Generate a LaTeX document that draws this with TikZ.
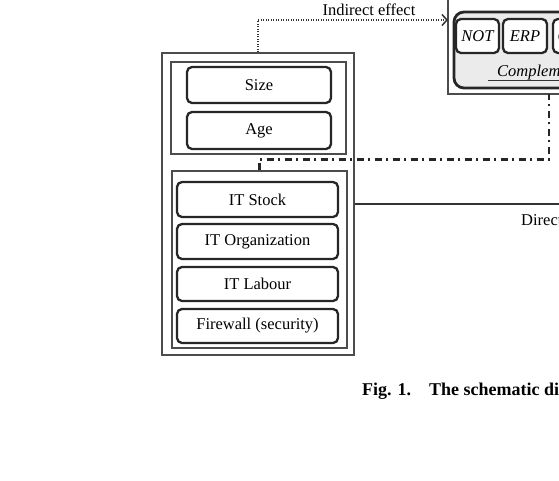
\documentclass[tikz,border=0pt]{standalone}
\usepackage{fontspec}
\setmainfont{Liberation Serif}
\usetikzlibrary{arrows.meta}
\begin{document}
\begin{tikzpicture}[x=1pt,y=-1pt,
  grp/.style={draw=black!70, line width=1.2pt, inner sep=0pt},
  item/.style={draw=black!85, line width=2.3pt, rounded corners=5pt, fill=white, inner sep=0pt, font=\fontsize{16.5}{18}\selectfont},
  sitem/.style={item, font=\fontsize{16.5}{18}\selectfont\itshape},
  lbl/.style={font=\fontsize{16.5}{18}\selectfont, inner sep=0pt},
  dotline/.style={draw=black!80, line width=1.8pt, dash pattern=on 1.2pt off 1.3pt},
  dashdot/.style={draw=black!85, line width=2.4pt, dash pattern=on 7pt off 4.5pt on 2pt off 4.5pt},
  solidline/.style={draw=black!80, line width=1.6pt}
]
\clip (0,0) rectangle (559,480);
\fill[white] (0,0) rectangle (559,480);

% left group
\node[grp, minimum width=192pt, minimum height=302pt] (outer) at (258,204) {};
\node[grp, minimum width=175pt, minimum height=92pt] (box1) at (258.5,108) {};
\node[grp, minimum width=175pt, minimum height=177pt] (box2) at (259.5,259.5) {};
\node[item, minimum width=144pt, minimum height=36pt] (size) at (259,85) {Size};
\node[item, minimum width=144pt, minimum height=37pt] (age) at (259,130.5) {Age};
\node[item, minimum width=161pt, minimum height=35pt] (stock) at (257.5,199.5) {IT Stock};
\node[item, minimum width=161pt, minimum height=35pt] (org) at (257.5,241.5) {IT Organization};
\node[item, minimum width=161pt, minimum height=34pt] (labour) at (257.5,284) {IT Labour};
\node[item, minimum width=161pt, minimum height=34pt] (fw) at (257.5,326) {Firewall (security)};

% right group (cut off by the frame)
\node[grp, minimum width=162pt, minimum height=114pt] (rout) at (529,37) {};
\node[draw=black!85, line width=2.8pt, rounded corners=10pt, fill=black!8, minimum width=166pt, minimum height=76pt, inner sep=0pt] (gray) at (537,50) {};
\node[sitem, minimum width=43pt, minimum height=34pt] (not) at (477.5,36) {NOT};
\node[sitem, minimum width=44pt, minimum height=34pt] (erp) at (525,36) {ERP};
\node[sitem, minimum width=44pt, minimum height=34pt] (crm) at (575,36) {CRM};
\node[lbl, font=\fontsize{16.5}{18}\selectfont\itshape, anchor=base west] (comp) at (497,76) {Complementarity};
\draw[draw=black!80, line width=0.9pt] (488,80) -- (comp.base east |- 0,80);

% connectors
\coordinate (ie) at (448,20);
\draw[dotline, -{Straight Barb[length=5pt,width=11pt,line width=1.5pt]}] (outer.north) |- (ie);
\node[lbl, anchor=base] (indirect) at (369,15) {Indirect effect};

\coordinate (dd) at (549,94);
\draw[dashdot] (box2.north) -- ++(0,-11) -| (dd);

\coordinate (dir) at (580,204);
\draw[solidline] (outer.east) -- (dir);
\node[lbl, anchor=base west] (direct) at (521,225) {Direct effect};

% caption
\node[anchor=base west, inner sep=0pt, font=\fontsize{18}{20}\selectfont\bfseries] (cap) at (362,395) {Fig. 1.\quad The schematic diagram};
\end{tikzpicture}
\end{document}
